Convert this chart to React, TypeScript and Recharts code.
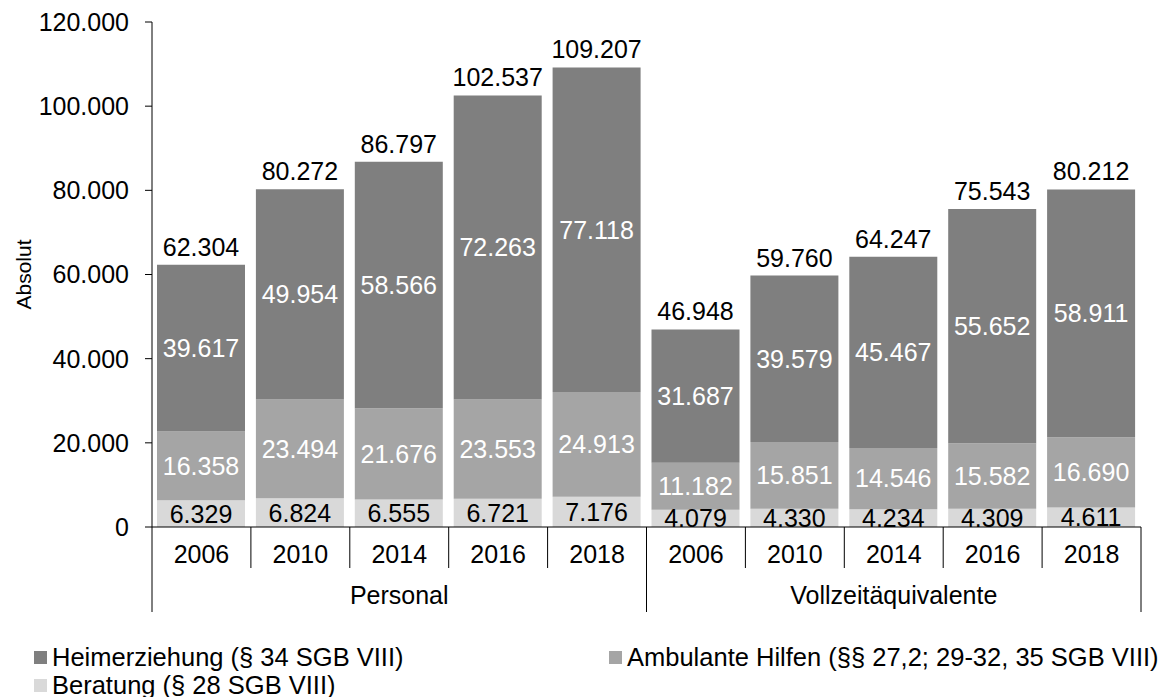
import { BarChart, Bar, XAxis, YAxis, LabelList, Legend } from 'recharts'

const YEARS = ['2006', '2010', '2014', '2016', '2018', '2006', '2010', '2014', '2016', '2018']
const GROUPS = ['Personal', 'Vollzeitäquivalente']
const HEIM = [39617, 49954, 58566, 72263, 77118, 31687, 39579, 45467, 55652, 58911]
const AMB = [16358, 23494, 21676, 23553, 24913, 11182, 15851, 14546, 15582, 16690]
const BER = [6329, 6824, 6555, 6721, 7176, 4079, 4330, 4234, 4309, 4611]
const TOTAL = [62304, 80272, 86797, 102537, 109207, 46948, 59760, 64247, 75543, 80212]
const Y_TICKS = [0, 20000, 40000, 60000, 80000, 100000, 120000]

const SERIES = [
  { key: 'heim', name: 'Heimerziehung (§ 34 SGB VIII)', color: '#7f7f7f' },
  { key: 'amb', name: 'Ambulante Hilfen (§§ 27,2; 29-32, 35 SGB VIII)', color: '#a5a5a5' },
  { key: 'ber', name: 'Beratung (§ 28 SGB VIII)', color: '#d9d9d9' },
]

const data = YEARS.map((year, i) => ({
  key: `${GROUPS[Math.floor(i / 5)]}-${year}`,
  heim: HEIM[i],
  amb: AMB[i],
  ber: BER[i],
  total: TOTAL[i],
}))

const FONT = '"Liberation Sans", Arial, sans-serif'

const fmt = (v: number) => String(v).replace(/\B(?=(\d{3})+(?!\d))/g, '.')

// year labels + separators, group label drawn by first tick of each group
function CategoryTick(props: any) {
  const { x, y, payload } = props
  const i: number = payload.index
  const bw = (payload.offset ?? 49.4) * 2
  const left = x - bw / 2
  const groupStart = i % 5 === 0
  const last = i === YEARS.length - 1
  return (
    <g>
      <line x1={left} x2={left} y1={y} y2={y + (groupStart ? 85 : 41)} stroke="#000" />
      {last && <line x1={left + bw} x2={left + bw} y1={y} y2={y + 85} stroke="#000" />}
      <text x={x} y={y + 36} textAnchor="middle" fontSize={25} fill="#000" fontFamily={FONT}>
        {YEARS[i]}
      </text>
      {groupStart && (
        <text x={left + 2.5 * bw} y={y + 77} textAnchor="middle" fontSize={25} fill="#000" fontFamily={FONT}>
          {GROUPS[i / 5]}
        </text>
      )}
    </g>
  )
}

function renderLegend() {
  return (
    <div style={{ position: 'relative', width: 1170, height: 60, fontFamily: FONT, fontSize: 25.5, color: '#000' }}>
      {SERIES.map((s, i) => (
        <div
          key={s.key}
          style={{
            position: 'absolute',
            left: i === 1 ? 609 : 34,
            top: i === 2 ? 28 : 0,
            height: 28,
            display: 'flex',
            alignItems: 'center',
            whiteSpace: 'nowrap',
          }}
        >
          <span style={{ display: 'inline-block', width: 13, height: 13, background: s.color, marginRight: 5 }} />
          <span style={{ lineHeight: '28px' }}>{s.name}</span>
        </div>
      ))}
    </div>
  )
}

export default function App() {
  return (
    <div style={{ position: 'absolute', left: 0, top: 0, width: 1170, height: 697, background: '#fff', fontFamily: FONT }}>
      <BarChart width={1170} height={697} data={data} margin={{ top: 22, right: 29, bottom: 0, left: 0 }}>
        <XAxis
          dataKey="key"
          height={170}
          tickLine={false}
          tickSize={0}
          tickMargin={0}
          interval={0}
          axisLine={{ stroke: '#000' }}
          tick={<CategoryTick />}
        />
        <YAxis
          width={152}
          domain={[0, 120000]}
          ticks={Y_TICKS}
          tickFormatter={fmt}
          tickSize={7}
          tickMargin={16}
          axisLine={{ stroke: '#000' }}
          tickLine={{ stroke: '#000' }}
          tick={{ fill: '#000', fontSize: 25, fontFamily: FONT }}
          label={{
            content: ({ viewBox }: any) => (
              <text
                x={viewBox.x + 23}
                y={viewBox.y + viewBox.height / 2}
                transform={`rotate(-90 ${viewBox.x + 23} ${viewBox.y + viewBox.height / 2})`}
                textAnchor="middle"
                dominantBaseline="central"
                fontSize={21}
                fill="#000"
                fontFamily={FONT}
              >
                Absolut
              </text>
            ),
          }}
        />
        <Legend
          layout="horizontal"
          verticalAlign="middle"
          align="center"
          wrapperStyle={{ left: 0, top: 643, width: 1170, height: 60 }}
          content={renderLegend}
        />
        <Bar dataKey="ber" name={SERIES[2].name} stackId="a" fill={SERIES[2].color} barSize={88} isAnimationActive={false}>
          <LabelList dataKey="ber" position="center" formatter={(v: any) => fmt(Number(v))} fill="#000" fontSize={25} fontFamily={FONT} />
        </Bar>
        <Bar dataKey="amb" name={SERIES[1].name} stackId="a" fill={SERIES[1].color} barSize={88} isAnimationActive={false}>
          <LabelList dataKey="amb" position="center" formatter={(v: any) => fmt(Number(v))} fill="#fff" fontSize={25} fontFamily={FONT} />
        </Bar>
        <Bar dataKey="heim" name={SERIES[0].name} stackId="a" fill={SERIES[0].color} barSize={88} isAnimationActive={false}>
          <LabelList dataKey="heim" position="center" formatter={(v: any) => fmt(Number(v))} fill="#fff" fontSize={25} fontFamily={FONT} />
          <LabelList dataKey="total" position="top" offset={9} formatter={(v: any) => fmt(Number(v))} fill="#000" fontSize={25} fontFamily={FONT} />
        </Bar>
      </BarChart>
    </div>
  )
}
